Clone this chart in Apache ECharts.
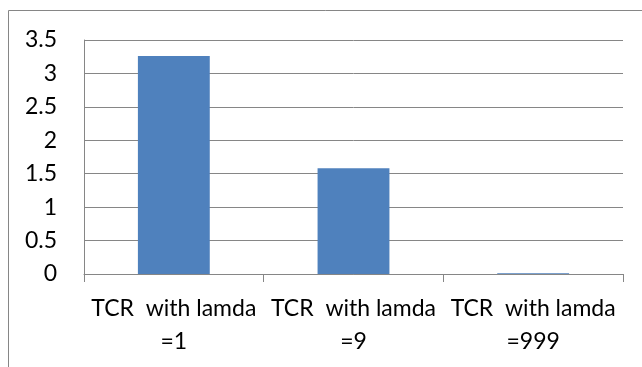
<!DOCTYPE html>
<html>
<head>
<meta charset="utf-8">
<script src="https://cdn.jsdelivr.net/npm/echarts@6/dist/echarts.min.js"></script>
<style>
  html, body { margin: 0; padding: 0; background: #ffffff; }
  #chart { width: 642px; height: 367px; }
</style>
</head>
<body>
<div id="chart"></div>
<script>
// TCR for different lamda settings
const categories = ['TCR  with lamda =1', 'TCR  with lamda =9', 'TCR  with lamda =999'];
const tcrValues = [3.26, 1.58, 0.01];
const yTicks = { min: 0, max: 3.5, step: 0.5 };

const FONT = 'Lato';
const GRAY = '#868686';

const chart = echarts.init(document.getElementById('chart'), null, { renderer: 'canvas' });

chart.setOption({
  animation: false,
  backgroundColor: '#ffffff',
  graphic: [{
    type: 'rect',
    shape: { x: 8.5, y: 10.5, width: 700, height: 400 },
    style: { fill: 'none', stroke: GRAY, lineWidth: 1 },
    silent: true,
    z: -1
  }],
  grid: { left: 84, right: 19, top: 40, bottom: 93, containLabel: false },
  xAxis: {
    type: 'category',
    data: categories,
    axisLine: { show: true, lineStyle: { color: GRAY, width: 1 } },
    axisTick: { show: true, alignWithLabel: false, length: 8, lineStyle: { color: GRAY } },
    axisLabel: {
      interval: 0,
      margin: 18,
      color: '#000000',
      fontFamily: FONT,
      fontSize: 23,
      lineHeight: 33,
      formatter: v => v.replace(' =', '\n=')
    },
    splitLine: { show: false }
  },
  yAxis: {
    type: 'value',
    min: yTicks.min,
    max: yTicks.max,
    interval: yTicks.step,
    axisLine: { show: true, lineStyle: { color: GRAY, width: 1 } },
    axisTick: { show: false },
    axisLabel: {
      margin: 27,
      color: '#000000',
      fontFamily: FONT,
      fontSize: 23,
      formatter: v => String(v)
    },
    splitLine: { show: true, lineStyle: { color: GRAY, width: 1 } }
  },
  series: [{
    type: 'bar',
    data: tcrValues,
    barCategoryGap: '60%',
    itemStyle: { color: '#4F81BD' }
  }]
});
</script>
</body>
</html>
